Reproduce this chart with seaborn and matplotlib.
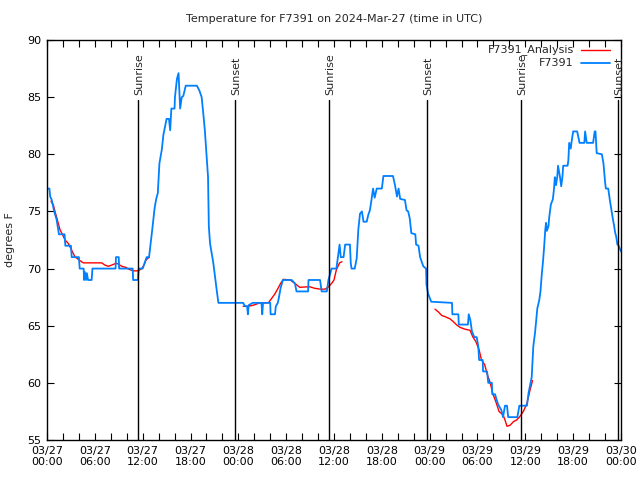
import matplotlib
matplotlib.use("Agg")
import matplotlib.pyplot as plt
import matplotlib.transforms as mtransforms
from matplotlib.lines import Line2D
import seaborn as sns
import pandas as pd

# ---- data (hours since 2024-03-27 00:00 UTC, degrees F) ----
obs_hours = [0.0, 0.3, 0.4, 0.6, 0.9, 1.2, 1.5, 2.2, 2.3, 3.0, 3.1, 4.0, 4.1, 4.6, 4.65, 4.75, 4.9, 5.0,
             5.15, 5.6, 5.7, 8.6, 8.65, 9.0, 9.05, 10.75, 10.8, 11.4, 11.5, 12.0, 12.5, 12.8, 13.0, 13.2,
             13.5, 13.7, 13.9, 14.1, 14.4, 14.6, 14.8, 15.0, 15.3, 15.45, 15.6, 16.0, 16.05, 16.3, 16.5,
             16.7, 16.9, 17.1, 17.4, 18.8, 19.1, 19.4, 19.6, 19.8, 20.0, 20.2, 20.3, 20.45, 20.66, 20.86,
             21.07, 21.29, 21.5, 24.6, 24.85, 25.1, 25.2, 25.3, 25.8, 26.9, 27.0, 27.1, 28.0, 28.05, 28.6,
             28.7, 28.95, 29.1, 29.3, 29.6, 30.7, 31.1, 31.3, 31.7, 32.75, 32.8, 34.25, 34.45, 35.1, 35.3,
             35.7, 36.3, 36.7, 36.85, 37.2, 37.4, 38.0, 38.1, 38.2, 38.6, 38.85, 39.05, 39.26, 39.5, 39.7,
             40.1, 40.3, 40.5, 40.7, 40.9, 41.1, 41.36, 42.0, 42.2, 43.4, 43.65, 43.9, 44.1, 44.3, 44.9,
             45.1, 45.3, 45.5, 45.7, 46.2, 46.3, 46.6, 46.8, 47.2, 47.55, 47.6, 47.8, 48.2, 50.8, 50.85,
             51.6, 51.65, 52.8, 52.9, 53.1, 53.3, 53.6, 53.9, 54.1, 54.2, 54.65, 54.7, 55.2, 55.35, 55.8,
             55.85, 56.2, 56.4, 56.6, 57.0, 57.2, 57.45, 57.7, 57.85, 59.0, 59.25, 60.2, 60.4, 60.8, 61.0,
             61.2, 61.35, 61.5, 61.75, 61.9, 62.05, 62.2, 62.35, 62.5, 62.6, 62.7, 62.9, 63.0, 63.2, 63.45,
             63.6, 63.7, 63.85, 64.0, 64.1, 64.35, 64.5, 64.65, 64.75, 65.3, 65.4, 65.5, 65.7, 65.8, 66.0,
             66.5, 66.8, 67.4, 67.5, 67.7, 68.5, 68.7, 68.8, 68.95, 69.6, 69.8, 70.0, 70.1, 70.4, 70.6,
             70.8, 71.0, 71.15, 71.25, 71.4, 71.55, 71.7, 72.0]
obs_temps = [77, 77, 76.3, 76, 75, 74.3, 73, 73, 72, 72, 71, 71, 70, 70, 69, 69.7, 69, 69.6,
             69, 69, 70, 70, 71, 71, 70, 70, 69, 69, 70, 70, 71, 71, 72.2, 73.4,
             75.3, 76.1, 76.6, 79.2, 80.4, 81.7, 82.4, 83.1, 83.1, 82.1, 84, 84, 85, 86.6, 87.1,
             84, 85, 85.1, 86, 86, 85.6, 85, 83.6, 82.1, 80.1, 78, 73.7, 72.2, 71.3, 70.5,
             69.3, 68.1, 67, 67, 66.7, 66.7, 66, 66.8, 67, 67, 66, 67, 67, 66, 66,
             66.7, 67, 67.5, 68.3, 69, 69, 68.7, 68, 68, 68, 69, 69, 68, 68, 69,
             70, 70, 72.1, 71, 71, 72.1, 72.1, 70.5, 70, 70, 70.9, 73.4, 74.8, 75, 74.1,
             74.1, 74.7, 75.1, 76, 77, 76.2, 77, 77, 78.1, 78.1, 77.3, 76.3, 77, 76.1, 76,
             75.1, 75, 74.4, 73.1, 73, 72.1, 72, 71, 70.2, 70, 68.6, 67.8, 67.1, 67, 66,
             66, 65.1, 65.1, 66, 65.5, 64.5, 64, 64, 63.2, 62, 62, 61, 61, 60, 60,
             59, 59, 58.5, 58.1, 57.6, 57, 58, 58, 57, 57, 58, 58, 59.1, 60.5, 63.2,
             64.3, 65.35, 66.5, 67.25, 68, 69.4, 70.5, 71.8, 73.4, 74, 73.3, 73.7, 74.5, 75.6, 76.06,
             77, 78, 77.3, 78, 79, 78, 77.2, 78, 79, 79, 79.5, 81, 80.5, 81.1, 82,
             82, 81, 81, 82, 81, 81, 82, 82, 80.1, 80, 79.2, 77.6, 77, 77, 76,
             75.1, 74.25, 73.7, 73.2, 72.8, 72.1, 72, 71.5]

ana_hours_1 = [0.5, 0.8, 1.0, 1.3, 1.63, 1.97, 2.26, 2.67, 3.1, 3.5, 3.93, 4.55, 6.86, 7.28, 7.69,
               8.1, 8.66, 8.95, 9.37, 9.91, 10.3, 10.8, 11.45, 11.88, 12.17, 12.42, 12.83]
ana_temps_1 = [75.9, 75.56, 75, 74.25, 73.4, 72.94, 72.5, 72.2, 71.6, 71.04, 70.8, 70.5, 70.5, 70.3, 70.2,
               70.3, 70.46, 70.4, 70.2, 70.1, 69.94, 69.8, 69.8, 70, 70.3, 70.75, 71.0]
ana_hours_2 = [24.6, 25.25, 25.9, 26.7, 27.76, 28.19, 28.6, 29.0, 29.3, 29.64, 30.5, 31.1, 31.7, 32.6,
               33.0, 33.6, 34.25, 34.9, 35.3, 35.7, 36.0, 36.3, 36.7, 37.0]
ana_temps_2 = [66.7, 66.7, 66.8, 67, 67, 67.4, 67.8, 68.3, 68.7, 69.06, 69, 68.7, 68.36, 68.4,
               68.4, 68.27, 68.2, 68.2, 68.4, 68.7, 69, 69.9, 70.5, 70.6]
ana_hours_3 = [48.67, 49.1, 49.5, 49.9, 50.55, 50.97, 51.4, 51.8, 52.4, 53.06, 53.4, 53.8, 54.2, 54.5,
               54.9, 55.2, 55.6, 55.9, 56.3, 56.7, 57.2, 57.45, 57.7, 58.1, 58.5, 58.9, 59.3, 59.75,
               60.2, 60.6, 60.9]
ana_temps_3 = [66.45, 66.2, 65.9, 65.8, 65.6, 65.35, 65.06, 64.86, 64.7, 64.6, 64.04, 63.6, 62.9, 62,
               61.6, 60.8, 60, 59.1, 58.35, 57.5, 57.2, 56.75, 56.2, 56.3, 56.6, 56.75, 57.04, 57.5,
               58.2, 59.4, 60.2]

sun_hours = [11.45, 23.62, 35.41, 47.70, 59.50, 71.66]
sun_labels = ["Sunrise", "Sunset", "Sunrise", "Sunset", "Sunrise", "Sunset"]

xtick_hours = list(range(0, 73, 2))
xtick_labels_major = ["03/27\n00:00", "03/27\n06:00", "03/27\n12:00", "03/27\n18:00",
                      "03/28\n00:00", "03/28\n06:00", "03/28\n12:00", "03/28\n18:00",
                      "03/29\n00:00", "03/29\n06:00", "03/29\n12:00", "03/29\n18:00",
                      "03/30\n00:00"]
ytick_values = [55, 60, 65, 70, 75, 80, 85, 90]

series_names = ["F7391_Analysis", "F7391"]
title = "Temperature for F7391 on 2024-Mar-27 (time in UTC)"
red = "#ff0000"
blue = "#0080ff"

# ---- build frames ----
obs = pd.DataFrame({"hour": obs_hours, "temp": obs_temps})
ana = pd.concat([
    pd.DataFrame({"hour": ana_hours_1, "temp": ana_temps_1, "seg": 1}),
    pd.DataFrame({"hour": ana_hours_2, "temp": ana_temps_2, "seg": 2}),
    pd.DataFrame({"hour": ana_hours_3, "temp": ana_temps_3, "seg": 3}),
])

sns.set_style("ticks")
plt.rcParams["font.family"] = ["DejaVu Sans"]

fig = plt.figure(figsize=(6.4, 4.8), dpi=100)
ax = fig.add_axes([47 / 640, 40 / 480, 574 / 640, 400 / 480])

for seg, d in ana.groupby("seg"):
    sns.lineplot(data=d, x="hour", y="temp", ax=ax, color=red, lw=1.0,
                 estimator=None, sort=False, legend=False)
sns.lineplot(data=obs, x="hour", y="temp", ax=ax, color=blue, lw=1.3,
             estimator=None, sort=False, legend=False)

ax.set_xlim(0, 72)
ax.set_ylim(55, 90)

trans = mtransforms.blended_transform_factory(ax.transData, ax.transAxes)
for h, lab in zip(sun_hours, sun_labels):
    ax.axvline(h, ymin=0, ymax=0.85, color="black", lw=1.0)
    ax.text(h + 0.1, 0.8625, lab, rotation=90, ha="center", va="bottom",
            fontsize=8, transform=trans)

ax.set_xticks(xtick_hours)
ax.set_xticklabels([xtick_labels_major[i // 3] if i % 3 == 0 else "" for i in range(len(xtick_hours))],
                   fontsize=8, linespacing=1.2)
ax.set_yticks(ytick_values)
ax.set_yticklabels([str(v) for v in ytick_values], fontsize=8)
ax.tick_params(direction="in", length=5, width=0.8, top=True, right=True, pad=4, colors="black")
ax.set_xlabel("")
ax.set_ylabel("")
for s in ax.spines.values():
    s.set_color("black")
    s.set_linewidth(1.0)

fig.text(334 / 640, 1 - 19 / 480, title, ha="center", va="center", fontsize=8)
fig.text(10 / 640, 0.5, "degrees F", rotation=90, ha="center", va="center", fontsize=8)

# key (legend) in the top-right corner: right-aligned text followed by line sample
for i, (name, col) in enumerate(zip(series_names, [red, blue])):
    yk = 0.975 - i * 0.0325
    ax.text(0.918, yk, name, transform=ax.transAxes, ha="right", va="center", fontsize=8)
    ax.add_line(Line2D([0.930, 0.981], [yk, yk], transform=ax.transAxes, color=col,
                       lw=1.3 if i else 1.0))

fig.savefig("out.png", dpi=100, facecolor="white")
